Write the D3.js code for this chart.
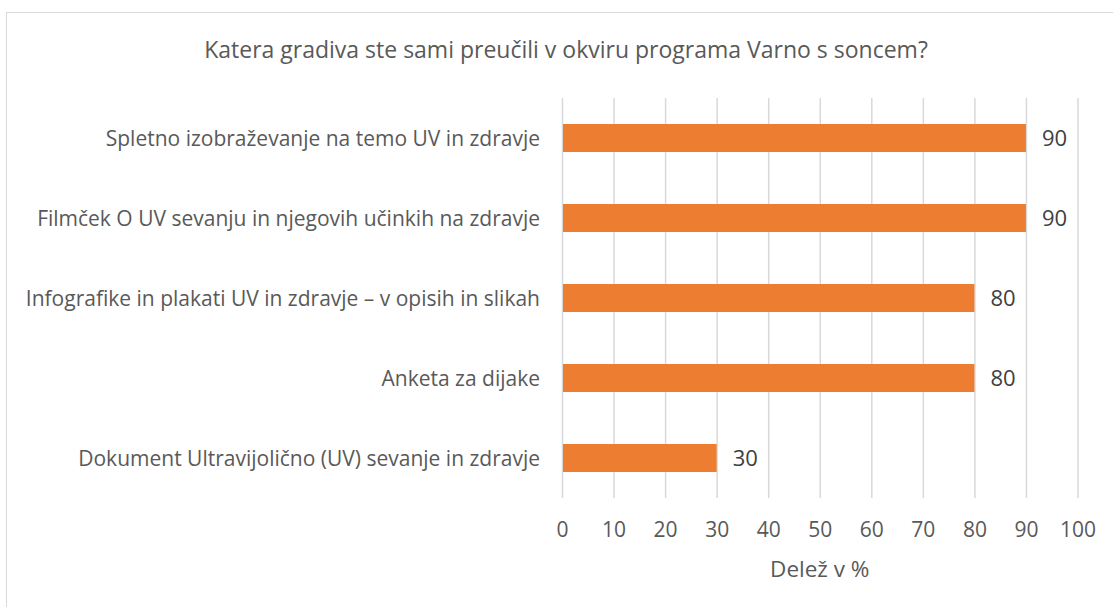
<!DOCTYPE html>
<html>
<head>
<meta charset="utf-8">
<script src="https://cdn.jsdelivr.net/npm/d3@7"></script>
<style>
  body { margin: 0; background: #fff; }
  text { font-family: "Open Sans", "Noto Sans", sans-serif; fill: #595959; }
  .title { font-size: 23px; }
  .cat { font-size: 21px; }
  .tick text { font-size: 21px; }
  .valueLabel { font-size: 22px; fill: #404040; }
  .axisTitle { font-size: 22.5px; }
</style>
</head>
<body>
<div id="chart"></div>
<script>
const categories = [
   "Spletno izobraževanje na temo UV in zdravje",
   "Filmček O UV sevanju in njegovih učinkih na zdravje",
   "Infografike in plakati UV in zdravje – v opisih in slikah",
   "Anketa za dijake",
   "Dokument Ultravijolično (UV) sevanje in zdravje"
];
const values = [90, 90, 80, 80, 30];
const xTicks = [0, 10, 20, 30, 40, 50, 60, 70, 80, 90, 100];

const title = "Katera gradiva ste sami preučili v okviru programa Varno s soncem?";
const xTitle = "Delež v %";

const width = 1113;
const height = 607;
const margin = { top: 98, right: 35, bottom: 109, left: 562 };

const svg = d3.select("#chart").append("svg")
   .attr("width", width)
   .attr("height", height);

// chart frame
svg.append("rect")
   .attr("x", 6.5)
   .attr("y", 12.5)
   .attr("width", width)
   .attr("height", height)
   .attr("fill", "none")
   .attr("stroke", "#d9d9d9")
   .attr("stroke-width", 1);

svg.append("text")
   .attr("class", "title")
   .attr("x", 566)
   .attr("y", 58)
   .style("text-anchor", "middle")
   .text(title);

const x = d3.scaleLinear()
   .domain([0, 100])
   .range([margin.left, width - margin.right - 0.5]);

const y = d3.scaleBand()
   .domain(categories)
   .range([margin.top, height - margin.bottom])
   .paddingInner(0.65)
   .paddingOuter(0.325);

// gridlines + tick labels
const xAxis = d3.axisBottom(x)
   .tickValues(xTicks)
   .tickSize(-(height - margin.bottom - margin.top))
   .tickPadding(24)
   .tickFormat(d3.format("d"));

const gx = svg.append("g")
   .attr("class", "axis xAxis")
   .attr("transform", `translate(0, ${height - margin.bottom})`)
   .call(xAxis);
gx.select(".domain").remove();
gx.selectAll(".tick line")
   .attr("stroke", "#d9d9d9")
   .attr("stroke-width", 1.5);
gx.selectAll(".tick text")
   .attr("fill", "#595959")
   .style("font-family", "'Open Sans', 'Noto Sans', sans-serif");

svg.selectAll("rect.bar")
   .data(values)
   .enter()
   .append("rect")
   .attr("class", "bar")
   .attr("x", x(0) + 1)
   .attr("y", (d, i) => y(categories[i]))
   .attr("width", d => x(d) - x(0) - 1)
   .attr("height", y.bandwidth())
   .style("fill", "#ed7d31");

svg.selectAll("text.valueLabel")
   .data(values)
   .enter()
   .append("text")
   .attr("class", "valueLabel")
   .attr("x", d => x(d) + 16)
   .attr("y", (d, i) => y(categories[i]) + y.bandwidth() / 2)
   .attr("dy", "0.36em")
   .text(d => d);

svg.selectAll("text.cat")
   .data(categories)
   .enter()
   .append("text")
   .attr("class", "cat")
   .attr("x", margin.left - 22)
   .attr("y", d => y(d) + y.bandwidth() / 2)
   .attr("dy", "0.36em")
   .style("text-anchor", "end")
   .text(d => d);

svg.append("text")
   .attr("class", "axisTitle")
   .attr("x", (x(0) + x(100)) / 2)
   .attr("y", 577)
   .style("text-anchor", "middle")
   .text(xTitle);
</script>
</body>
</html>
